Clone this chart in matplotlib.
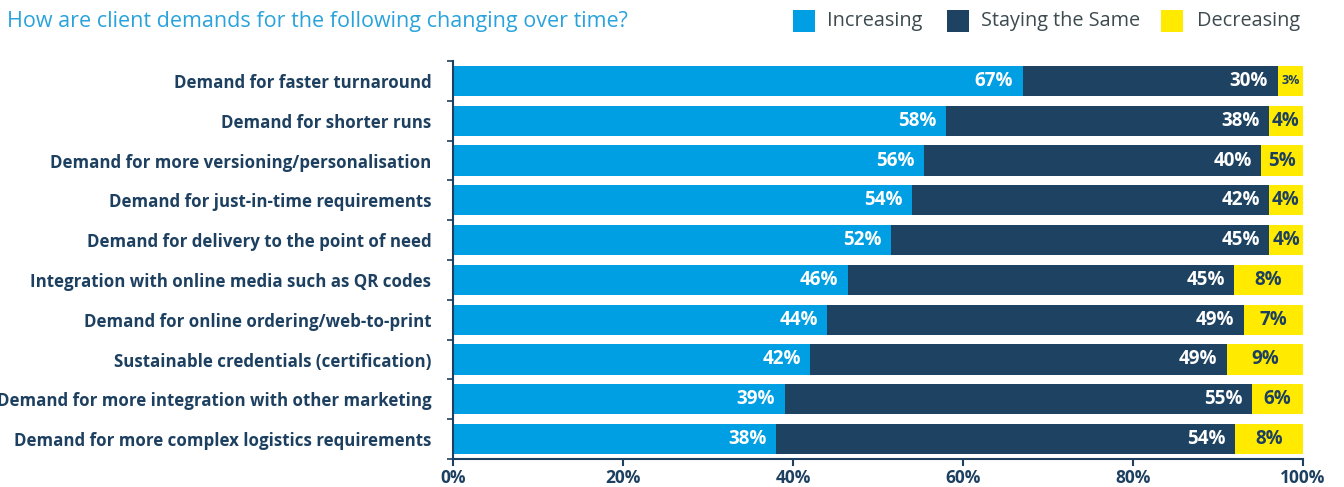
import matplotlib.pyplot as plt
from matplotlib.patches import Rectangle
import numpy as np

categories = [
    "Demand for faster turnaround",
    "Demand for shorter runs",
    "Demand for more versioning/personalisation",
    "Demand for just-in-time requirements",
    "Demand for delivery to the point of need",
    "Integration with online media such as QR codes",
    "Demand for online ordering/web-to-print",
    "Sustainable credentials (certification)",
    "Demand for more integration with other marketing",
    "Demand for more complex logistics requirements",
]
increasing = [67, 58, 56, 54, 52, 46, 44, 42, 39, 38]
staying = [30, 38, 40, 42, 45, 45, 49, 49, 55, 54]
decreasing = [3, 4, 5, 4, 4, 8, 7, 9, 6, 8]
series_names = ["Increasing", "Staying the Same", "Decreasing"]
xticks = [0, 20, 40, 60, 80, 100]

C_INC = "#009fe3"
C_STAY = "#1d4262"
C_DEC = "#ffea00"
NAVY = "#1d4060"
FONT = ["Open Sans", "DejaVu Sans"]

plt.rcParams["font.family"] = FONT

W, H = 1344, 487
fig = plt.figure(figsize=(W / 100, H / 100), dpi=100)
ax = fig.add_axes([453 / W, 1 - 459 / H, 850 / W, 398 / H])

inc = np.array(increasing, float)
sta = np.array(staying, float)
dec = np.array(decreasing, float)
tot = inc + sta + dec
inc_w = inc / tot * 100
sta_w = sta / tot * 100
dec_w = dec / tot * 100

y = np.arange(len(categories))
h = 0.76
ax.barh(y, inc_w, height=h, color=C_INC)
ax.barh(y, sta_w, left=inc_w, height=h, color=C_STAY)
ax.barh(y, dec_w, left=inc_w + sta_w, height=h, color=C_DEC)

for i in range(len(categories)):
    ax.text(inc_w[i] - 1.1, y[i], f"{increasing[i]}%", ha="right", va="center",
            color="white", fontsize=13.5, fontweight="bold")
    ax.text(inc_w[i] + sta_w[i] - 1.1, y[i], f"{staying[i]}%", ha="right", va="center",
            color="white", fontsize=13.5, fontweight="bold")
    small = dec_w[i] < 3.5
    ax.text(inc_w[i] + sta_w[i] + dec_w[i] / 2, y[i], f"{decreasing[i]}%", ha="center",
            va="center", color=NAVY, fontsize=9 if small else 13.5, fontweight="bold")

ax.set_xlim(0, 100)
ax.set_ylim(len(categories) - 0.5, -0.5)
ax.set_xticks(xticks)
ax.set_xticklabels([f"{t}%" for t in xticks], fontsize=12.5, fontweight="bold", color=NAVY)
ax.tick_params(axis="x", direction="out", length=5, width=1.5, color=NAVY, pad=2)

ax.set_yticks(y)
ax.set_yticklabels(categories, fontsize=12.2, fontweight="bold", color=NAVY)
ax.tick_params(axis="y", which="major", length=0, pad=15.5)
ax.set_yticks(np.arange(-0.5, len(categories), 1), minor=True)
ax.tick_params(axis="y", which="minor", direction="out", length=4, width=1.2, color=NAVY)

for s in ["top", "right"]:
    ax.spines[s].set_visible(False)
for s in ["left", "bottom"]:
    ax.spines[s].set_color(NAVY)
    ax.spines[s].set_linewidth(1.5)

fig.text(7 / W, 1 - 22 / H, "How are client demands for the following changing over time?",
         color="#2aa3dc", fontsize=15.5, va="center", ha="left")

# legend: colour swatch followed by series name
swatch_x = [793, 947, 1161]
text_x = [827, 981, 1197]
for name, col, sx, tx in zip(series_names, [C_INC, C_STAY, C_DEC], swatch_x, text_x):
    fig.patches.append(Rectangle((sx / W, 1 - 32 / H), 22 / W, 22 / H,
                                 transform=fig.transFigure, color=col, lw=0))
    fig.text(tx / W, 1 - 21 / H, name, color="#3d4a4f", fontsize=14.3,
             va="center", ha="left")

fig.savefig("out.png", dpi=100)
